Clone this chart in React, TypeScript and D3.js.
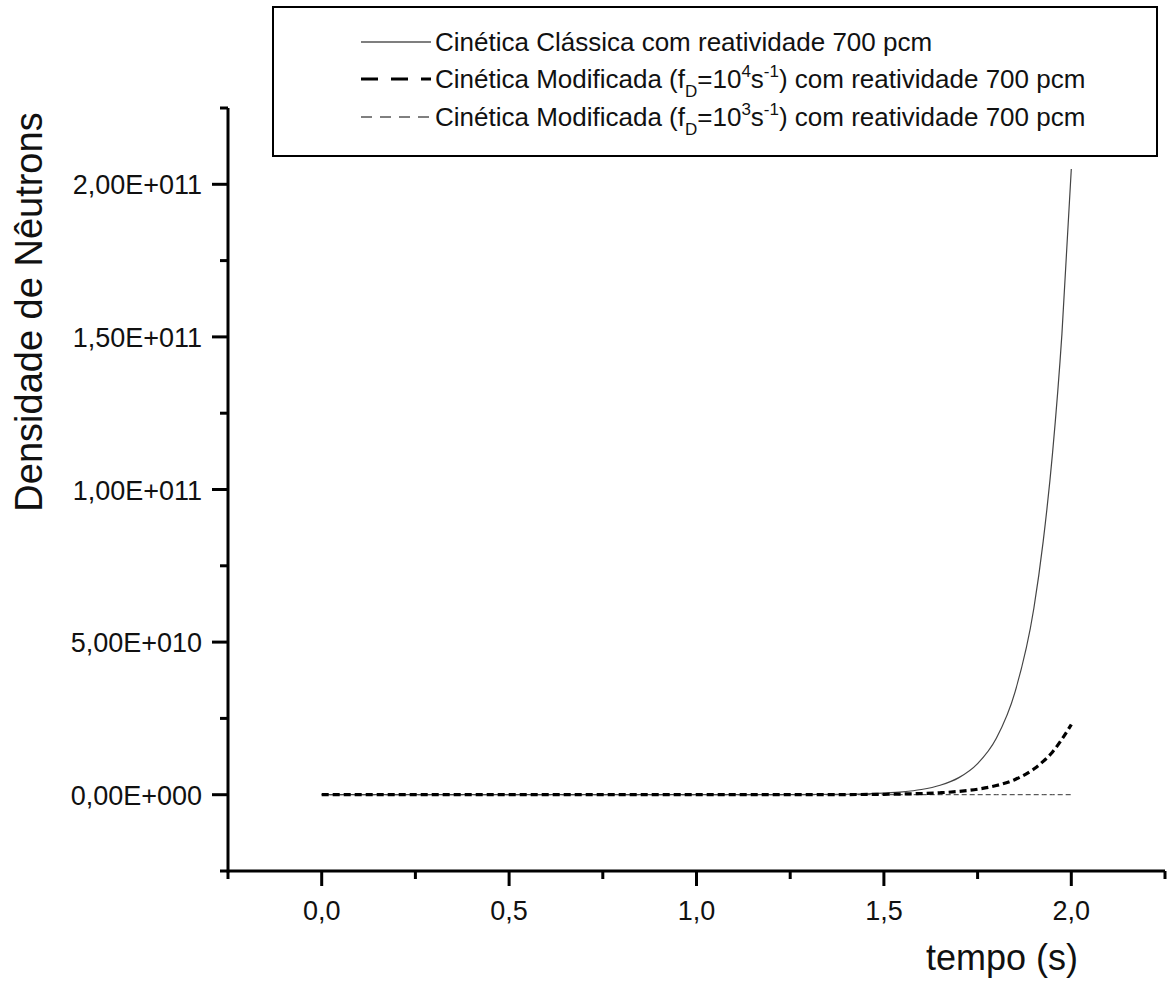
import React from "react";
import * as d3 from "d3";

const times = [0, 0.25, 0.5, 0.75, 1.0, 1.25, 1.4, 1.5, 1.55, 1.6, 1.65, 1.7, 1.75, 1.8, 1.85, 1.9, 1.925, 1.95, 1.975, 2.0];
const classica = [0, 0, 0, 0, 0, 2.5e7, 1.5e8, 5.1e8, 9.2e8, 1.7e9, 3.1e9, 5.6e9, 1.02e10, 1.85e10, 3.37e10, 6.1e10, 8.3e10, 1.12e11, 1.51e11, 2.05e11];
const modificada4 = [0, 0, 0, 0, 0, 1.0e7, 4.9e7, 1.36e8, 2.3e8, 3.8e8, 6.4e8, 1.07e9, 1.8e9, 3.0e9, 5.0e9, 8.4e9, 1.09e10, 1.4e10, 1.82e10, 2.3e10];
const modificada3 = [0, 0, 0, 0, 0, 0, 0, 0, 0, 0, 0, 0, 0, 0, 0, 0, 0, 0, 0, 0];

const xTicks = [0, 0.5, 1.0, 1.5, 2.0];
const xTickLabels = ["0,0", "0,5", "1,0", "1,5", "2,0"];
const xMinor = [-0.25, 0.25, 0.75, 1.25, 1.75, 2.25];
const yTicks = [0, 5e10, 1e11, 1.5e11, 2e11];
const yTickLabels = ["0,00E+000", "5,00E+010", "1,00E+011", "1,50E+011", "2,00E+011"];
const yMinor = [-2.5e10, 2.5e10, 7.5e10, 1.25e11, 1.75e11, 2.25e11];

const FONT = "'Liberation Sans', Arial, sans-serif";

export default function App() {
  const x = d3.scaleLinear().domain([-0.25, 2.25]).range([228, 1165]);
  const y = d3.scaleLinear().domain([-2.5e10, 2.25e11]).range([871, 108]);
  const mk = (vals: number[]) =>
    d3
      .line<number>()
      .x((_, i) => x(times[i]))
      .y((v) => y(v))
      .curve(d3.curveMonotoneX)(vals) || "";

  const x0 = x(-0.25);
  const y0 = y(-2.5e10);

  const legendRows = [
    { cy: 42, dash: "none", w: 1.2 },
    { cy: 79, dash: "17,13", w: 3 },
    { cy: 117, dash: "11,8", w: 1 },
  ];

  const sub = 17;

  return (
    <svg width={1168} height={981} style={{ position: "absolute", left: 0, top: 0, background: "#fff" }} fontFamily={FONT}>
      <rect x={0} y={0} width={1168} height={981} fill="#fff" />
      {/* series */}
      <path d={mk(modificada3)} fill="none" stroke="#333" strokeWidth={1} strokeDasharray="5,3" />
      <path d={mk(classica)} fill="none" stroke="#444" strokeWidth={1.2} />
      <path d={mk(modificada4)} fill="none" stroke="#000" strokeWidth={3.2} strokeDasharray="7,4" />

      {/* axes */}
      <line x1={x0} x2={x(2.25)} y1={y0} y2={y0} stroke="#000" strokeWidth={3} />
      <line x1={x0} x2={x0} y1={y(2.25e11)} y2={y0 + 1.5} stroke="#000" strokeWidth={3} />
      {xTicks.map((t, i) => (
        <g key={"xt" + i}>
          <line x1={x(t)} x2={x(t)} y1={y0} y2={y0 + 15} stroke="#000" strokeWidth={3} />
          <text x={x(t)} y={920} textAnchor="middle" fontSize={27} fill="#111">
            {xTickLabels[i]}
          </text>
        </g>
      ))}
      {xMinor.map((t, i) => (
        <line key={"xm" + i} x1={x(t)} x2={x(t)} y1={y0} y2={y0 + 8} stroke="#000" strokeWidth={3} />
      ))}
      {yTicks.map((v, i) => (
        <g key={"yt" + i}>
          <line x1={x0 - 16} x2={x0} y1={y(v)} y2={y(v)} stroke="#000" strokeWidth={3} />
          <text x={202} y={y(v) + 10} textAnchor="end" fontSize={27} fill="#111">
            {yTickLabels[i]}
          </text>
        </g>
      ))}
      {yMinor.map((v, i) => (
        <line key={"ym" + i} x1={x0 - 8} x2={x0} y1={y(v)} y2={y(v)} stroke="#000" strokeWidth={3} />
      ))}

      {/* axis titles */}
      <text x={1002} y={970} textAnchor="middle" fontSize={36} fill="#111">
        tempo (s)
      </text>
      <text transform="translate(42,312) rotate(-90)" textAnchor="middle" fontSize={38} fill="#111">
        Densidade de Nêutrons
      </text>

      {/* legend */}
      <rect x={273} y={7} width={884} height={149} fill="#fff" stroke="#000" strokeWidth={2} />
      {legendRows.map((r, i) => (
        <line key={"lg" + i} x1={361} x2={431} y1={r.cy} y2={r.cy} stroke="#000" strokeWidth={r.w} strokeDasharray={r.dash} />
      ))}
      <text x={435} y={51} fontSize={26} fill="#111">
        Cinética Clássica com reatividade 700 pcm
      </text>
      <text x={435} y={88} fontSize={26} fill="#111">
        Cinética Modificada (f
        <tspan fontSize={sub} dy={9}>D</tspan>
        <tspan dy={-9}>=10</tspan>
        <tspan fontSize={sub} dy={-11}>4</tspan>
        <tspan dy={11}>s</tspan>
        <tspan fontSize={sub} dy={-11}>-1</tspan>
        <tspan dy={11}>) com reatividade 700 pcm</tspan>
      </text>
      <text x={435} y={126} fontSize={26} fill="#111">
        Cinética Modificada (f
        <tspan fontSize={sub} dy={9}>D</tspan>
        <tspan dy={-9}>=10</tspan>
        <tspan fontSize={sub} dy={-11}>3</tspan>
        <tspan dy={11}>s</tspan>
        <tspan fontSize={sub} dy={-11}>-1</tspan>
        <tspan dy={11}>) com reatividade 700 pcm</tspan>
      </text>
    </svg>
  );
}
